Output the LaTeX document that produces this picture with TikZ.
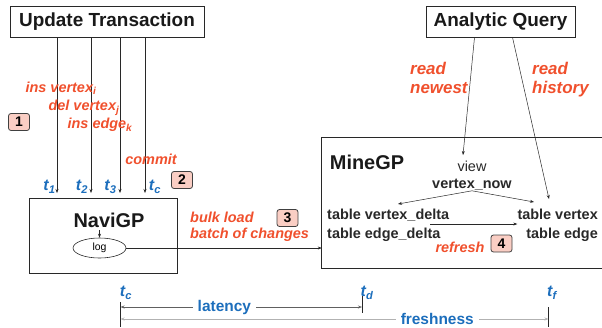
\documentclass[tikz,border=0pt]{standalone}
\usepackage{fontspec}
\setmainfont{Liberation Sans}
\usetikzlibrary{arrows.meta,shapes.geometric,positioning}

\definecolor{hpred}{RGB}{240,80,45}
\definecolor{hpblue}{RGB}{28,110,188}
\definecolor{badgefill}{RGB}{250,206,196}
\definecolor{inkgray}{RGB}{40,40,40}

\tikzset{
  box/.style={draw=inkgray, line width=0.8pt, inner sep=0pt},
  title/.style={font=\fontsize{19}{21}\selectfont\bfseries, text=black!90},
  bigtitle/.style={font=\fontsize{20}{22}\selectfont\bfseries, text=black!90, inner sep=0pt},
  redlab/.style={font=\fontsize{14.5}{16}\selectfont\bfseries\itshape, text=hpred, inner sep=0pt, align=left},
  readlab/.style={font=\fontsize{17}{19}\selectfont\bfseries\itshape, text=hpred, inner sep=0pt, align=left},
  tlab/.style={font=\fontsize{16}{18}\selectfont\bfseries\itshape, text=hpblue, inner sep=0pt},
  spanlab/.style={font=\fontsize{15.5}{18}\selectfont\bfseries, text=hpblue, fill=white, inner xsep=5bp, inner ysep=1bp},
  badge/.style={draw=gray!50!black, fill=badgefill, rounded corners=2.5bp, line width=0.8pt,
    minimum width=21bp, minimum height=17bp, inner sep=0pt, font=\fontsize{14}{16}\selectfont\bfseries},
  tab/.style={font=\fontsize{14.5}{19}\selectfont\bfseries, text=inkgray, inner sep=0pt},
  flow/.style={-{Stealth[length=4bp,width=3bp]}, draw=inkgray, line width=0.5pt},
  span/.style={{Stealth[length=4bp,width=3bp]}-{Stealth[length=4bp,width=3bp]}, draw=gray!75!black, line width=0.8pt},
  tick/.style={draw=inkgray, line width=0.8pt},
}

\begin{document}
\begin{tikzpicture}[x=1bp, y=-1bp]
    \useasboundingbox (0,0) rectangle (602,327);

    \node[box, title, minimum width=194bp, minimum height=31bp] (upd) at (107,21.5) {Update Transaction};
    \node[box, title, minimum width=149bp, minimum height=31bp] (qry) at (500.5,21.5) {Analytic Query};

    \node[box, minimum width=148bp, minimum height=75bp] (navi) at (103,235.5) {};
    \node[bigtitle] (navititle) at (109,220) {NaviGP};
    \node[draw=inkgray, ellipse, line width=0.6pt, minimum width=53bp, minimum height=20bp, inner sep=0pt,
      font=\fontsize{10.5}{12}\selectfont] (log) at (99.5,248) {log};
    \coordinate (logtop) at (99.5,230);
    \draw[flow] (logtop) -- (log.north);

    \foreach \x/\n in {57/1, 91/2, 120/3, 145/c} {
      \coordinate (in\n) at (\x,193);
      \draw[flow] (upd.south -| in\n) -- (in\n);
    }
    \node[tlab] (t1) at (49.5,187) {t\textsubscript{1}};
    \node[tlab] (t2) at (82,187) {t\textsubscript{2}};
    \node[tlab] (t3) at (110.5,187) {t\textsubscript{3}};
    \node[tlab] (tc) at (155,187) {t\textsubscript{c}};

    \node[redlab] (insv) at (61,88) {ins vertex\textsubscript{i}};
    \node[redlab] (delv) at (84,108) {del vertex\textsubscript{j}};
    \node[redlab] (inse) at (100,125) {ins edge\textsubscript{k}};
    \node[redlab] (commit) at (151,159) {commit};

    \node[badge] (b1) at (19,122) {1};
    \node[badge] (b2) at (182,180) {2};
    \node[badge] (b3) at (287.5,218) {3};
    \node[badge] (b4) at (501.5,243.5) {4};

    \node[redlab, anchor=north west] (bulk) at (190,212) {bulk load\\batch of changes};

    \node[minimum width=280bp, minimum height=130bp, inner sep=0pt] (mine) at (462,203) {};
    \draw[box] (mine.north east) -- (mine.north west) -- (mine.south west) -- (mine.south east);
    \node[bigtitle] (minetitle) at (367,162) {MineGP};
    \draw[flow] (log.east) -- (log.east -| mine.west);

    \node[inner sep=0pt, align=center, text=inkgray, font=\fontsize{14.5}{17}\selectfont] (view) at (472,176)
      {view\\\textbf{vertex\_now}};
    \node[tab, align=left, anchor=north west] (delta) at (327,209) {table vertex\_delta\\table edge\_delta};
    \node[tab, align=right, anchor=north east] (base) at (598,209) {table vertex\\table edge};
    \node[redlab] (refresh) at (460,247) {refresh};

    \coordinate (dtop) at (398,204);
    \coordinate (btop) at (534,202);
    \draw[flow] (view.south) -- (dtop);
    \draw[flow] (view.south) -- (btop);
    \coordinate (ra) at (430,224);
    \draw[flow] (ra) -- (ra -| base.west);

    \node[readlab, anchor=north west] (rnew) at (410,62) {read\\newest};
    \node[readlab, anchor=north west] (rhist) at (532,62) {read\\history};
    \coordinate (vtop) at (463,155);
    \coordinate (htop) at (549,199);
    \draw[flow] ([xshift=-26bp]qry.south) -- (vtop);
    \draw[flow] ([xshift=12bp]qry.south) -- (htop);

    \coordinate (lat0) at (120.5,307);
    \coordinate (lat1) at (362,307);
    \coordinate (fr0) at (120.5,319);
    \coordinate (fr1) at (548.5,319);
    \draw[tick] (lat0) ++(0,-5) -- ++(0,25);
    \draw[tick] (lat1) ++(0,-11) -- ++(0,17);
    \draw[tick] (fr1) ++(0,-12) -- ++(0,20);
    \draw[span] (lat0) -- (lat1) node[spanlab, pos=0.43] (latency) {latency};
    \draw[span, draw=gray!60] (fr0) -- (fr1) node[spanlab, pos=0.74] (fresh) {freshness};
    \node[tlab] (tcb) at (126,293) {t\textsubscript{c}};
    \node[tlab] (td) at (367,293) {t\textsubscript{d}};
    \node[tlab] (tf) at (552,293) {t\textsubscript{f}};
\end{tikzpicture}
\end{document}
